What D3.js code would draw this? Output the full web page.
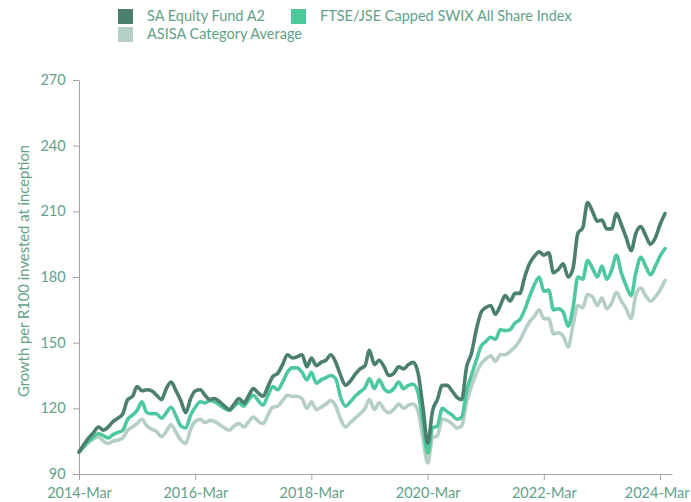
<!DOCTYPE html>
<meta charset="utf-8">
<style>
body { margin: 0; background: #fff; }
text { font-family: Lato, "Open Sans", sans-serif; fill: #62a188; }
.axis path, .axis line { stroke: #a3a3a3; }
</style>
<body>
<script src="https://d3js.org/d3.v7.min.js"></script>
<script>

// Monthly values, 2014-Mar to 2024-Apr (growth of R100)
var seriesNames = ["SA Equity Fund A2", "FTSE/JSE Capped SWIX All Share Index", "ASISA Category Average"];
var seriesColors = ["#4b7f6e", "#4ec99b", "#b6cfc5"];

var fund = [100,103.5,106.5,109,111.5,110,111.5,114,115.5,117.5,124,125.5,130,128,128.5,128,126,124,129,132,128,123.5,118,124.5,
  128,128.5,126,124,124.5,123,121,119.5,122,124.5,122.5,126,129,127,125.5,130,134.5,136,140,144.5,143,143.5,144.5,139,
  143,139.5,141,142,144.5,141,135,130.5,132.5,135.5,138,139.5,146.5,140,142,139,135,136,139,138,140,141,136,120,
  104,119,124,130.5,130.5,128,125,124,139,145,156,164,166,167,163,167,171.5,169,172.5,172.5,180,186,189.5,191.5,
  190,191,182,183.5,186,180,184,200,202.5,214,210,205.5,206,202,202,209,204,198,192,200,203,199,195,198,204,209];

var index = [100,102.5,105,107,108.5,107.5,106.5,108,109,110,115,117,119,123,118,117.5,117.5,115.5,118,120.5,116.5,112,111,117,
  120.5,123,122.5,123.5,123,121.5,120,119,121,122.5,121,124,126,123.5,121.5,126,130,128.5,132,136.5,138.5,138.5,136.5,133,
  136.5,131.5,133,134,135,133.5,125,121,123,125.5,127.5,129.5,133.5,129,133,129,127.5,129,132,129,130.5,131,127,113,
  99.5,111,112,120,118.5,117,115,116,128,135,142,148.5,150.5,152.5,151.5,156,155.5,156,159,160.5,165,171,176.5,180,
  173.5,174,165,165.5,164,157.5,166,180,179,187.5,184,180,185,179,183,190,182,176,171.5,182,189,185,181,185,189.5,193];

var category = [100,102.5,104.5,106,107,105,104,105,105.5,106.5,110,111.5,113,115,112,110.5,109.5,107,109.5,112.5,109,105.5,104,110.5,
  114,115,113.5,114.5,114,112.5,111,110,112,113,111.5,114,116,114,113,117,120.5,121,123.5,126,125.5,125.5,124.5,120,
  123,119.5,120.5,122,123.5,121,115,111.5,113.5,115.5,117.5,120,124,119.5,122.5,119.5,118,119.5,122,120,121.5,122,118.5,106,
  95,106.5,107.5,115,114.5,113,111,112,123,130,136,140.5,142.5,144,141.5,144.5,144.5,146,148,151,155.5,159.5,162,165,
  161,161,154,154.5,153,148,158,167,166,172,171,167,170.5,165.5,168,173,169,165.5,161,172,175,171.5,169,171,174,178.5];

var months = d3.timeMonth.range(new Date(2014, 2, 1), new Date(2024, 4, 1));
var yTicks = [90, 120, 150, 180, 210, 240, 270];
var xTicks = [2014, 2016, 2018, 2020, 2022, 2024].map(function(yr) { return new Date(yr, 2, 1); });

var margin = {top: 80, right: 19, bottom: 28, left: 79},
    width = 691 - margin.left - margin.right,
    height = 502 - margin.top - margin.bottom;

var svg = d3.select("body").append("svg")
    .attr("width", 691)
    .attr("height", 502);

var g = svg.append("g")
    .attr("transform", "translate(" + margin.left + "," + margin.top + ")");

var x = d3.scaleTime()
    .domain([new Date(2014, 2, 1), new Date(2024, 4, 15)])
    .range([0, width]);
var y = d3.scaleLinear()
    .domain([90, 270])
    .range([height, 0]);

// axes
var xAxis = g.append("g")
    .attr("class", "axis")
    .attr("transform", "translate(0," + height + ")")
    .call(d3.axisBottom(x).tickValues(xTicks).tickSize(6).tickSizeOuter(0)
      .tickFormat(d3.timeFormat("%Y-%b")));
xAxis.selectAll("text").attr("font-size", "14.5px").attr("dy", "1.0em");
// keep the last label inside the page
xAxis.selectAll(".tick:last-of-type text").attr("text-anchor", "end").attr("x", 29);

var yAxis = g.append("g")
    .attr("class", "axis")
    .call(d3.axisLeft(y).tickValues(yTicks).tickSize(6).tickSizeOuter(0));
yAxis.selectAll("text").attr("font-size", "14.5px").attr("dx", "-0.3em");
g.selectAll(".axis .domain").attr("stroke", "#a3a3a3");

svg.append("text")
    .attr("transform", "translate(29,271) rotate(-90)")
    .attr("text-anchor", "middle")
    .attr("font-size", "14.8px")
    .text("Growth per R100 invested at inception");

// lines
var line = d3.line()
    .x(function(d, i) { return x(months[i]); })
    .y(function(d) { return y(d); })
    .curve(d3.curveMonotoneX);

var data = [fund, index, category];
[2, 1, 0].forEach(function(k) {
  g.append("path")
      .datum(data[k])
      .attr("fill", "none")
      .attr("stroke", seriesColors[k])
      .attr("stroke-width", 3.6)
      .attr("stroke-linejoin", "round")
      .attr("stroke-linecap", "round")
      .attr("d", line);
});

// legend
var legendPos = [[118, 9], [291, 9], [118, 27]];
var legend = svg.selectAll(".legend")
    .data(seriesNames)
  .enter().append("g")
    .attr("class", "legend")
    .attr("transform", function(d, i) { return "translate(" + legendPos[i][0] + "," + legendPos[i][1] + ")"; });
legend.append("rect")
    .attr("width", 15)
    .attr("height", 15)
    .attr("fill", function(d, i) { return seriesColors[i]; });
legend.append("text")
    .attr("x", 29)
    .attr("y", 12)
    .attr("font-size", "14.5px")
    .text(function(d) { return d; });

</script>
</body>
